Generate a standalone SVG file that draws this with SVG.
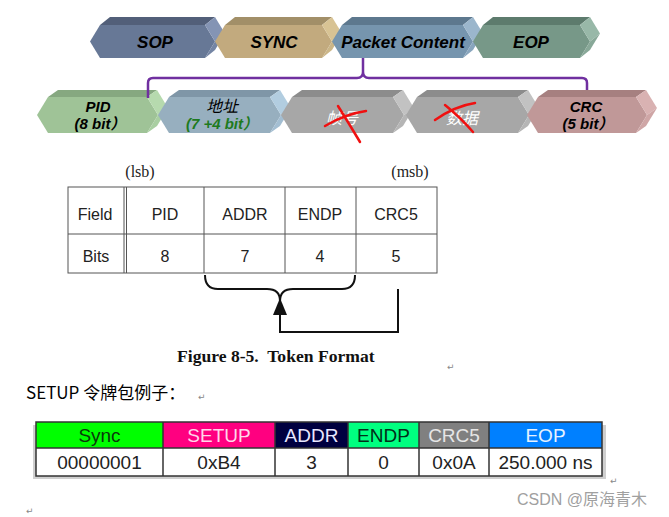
<svg xmlns="http://www.w3.org/2000/svg" width="669" height="517" viewBox="0 0 669 517">
<style>
.t1{font-family:"Liberation Sans",Arial,sans-serif;font-weight:bold;font-style:italic;font-size:17px;fill:#000;text-anchor:middle}
.t2{font-family:"Liberation Sans","Noto Sans CJK SC",sans-serif;font-weight:bold;font-style:italic;font-size:15px;fill:#000;text-anchor:middle}
.cn{font-family:"Noto Sans CJK SC",sans-serif;font-style:italic;font-size:16px;text-anchor:middle}
.tb{font-family:"Liberation Sans",Arial,sans-serif;font-size:16px;fill:#222;text-anchor:middle}
.tm{font-family:"Liberation Serif","Times New Roman",serif;font-size:16px;fill:#222;text-anchor:middle}
.bt{font-family:"Liberation Sans",Arial,sans-serif;font-size:19px;text-anchor:middle}
.ret{font-family:"DejaVu Sans",sans-serif;font-size:9px;fill:#888}
.cross{fill:none;stroke:#f01010;stroke-width:2.5;stroke-linecap:round}
.ln{stroke:#555;stroke-width:1;fill:none}
.bl{stroke:#333;stroke-width:1.5;fill:none}
</style>

<g id="sop">
<polygon points="90,41.5 100,25 205,25 215,41.5 205,58 100,58" fill="#677896"/>
<polygon points="100,25 110,17 215,17 205,25" fill="#525f79"/>
<polygon points="205,25 215,17 225,33.5 215,41.5" fill="#8494b4"/>
<polygon points="215,41.5 225,33.5 215,50 205,58" fill="#7485a4"/>
<text class="t1" x="155" y="48">SOP</text>
</g>
<g id="sync">
<polygon points="215,41.5 225,25 322,25 332,41.5 322,58 225,58" fill="#c2aa7e"/>
<polygon points="225,25 235,17 332,17 322,25" fill="#a28f68"/>
<polygon points="322,25 332,17 342,33.5 332,41.5" fill="#d8c394"/>
<polygon points="332,41.5 342,33.5 332,50 322,58" fill="#cbb688"/>
<text class="t1" x="274" y="48">SYNC</text>
</g>
<g id="packet">
<polygon points="332,41.5 342,25 463,25 473,41.5 463,58 342,58" fill="#7695ae"/>
<polygon points="342,25 352,17 473,17 463,25" fill="#5d788e"/>
<polygon points="463,25 473,17 483,33.5 473,41.5" fill="#9bb6cc"/>
<polygon points="473,41.5 483,33.5 473,50 463,58" fill="#88a5bd"/>
<text class="t1" x="403" y="48">Packet Content</text>
</g>
<g id="eop">
<polygon points="473,41.5 483,25 580,25 590,41.5 580,58 483,58" fill="#779888"/>
<polygon points="483,25 493,17 590,17 580,25" fill="#5d7b6d"/>
<polygon points="580,25 590,17 600,33.5 590,41.5" fill="#98b8a8"/>
<polygon points="590,41.5 600,33.5 590,50 580,58" fill="#88a898"/>
<text class="t1" x="531" y="48">EOP</text>
</g>

<g id="pid">
<polygon points="37,115 48,97 147,97 158,115 147,133 48,133" fill="#9fc397"/>
<polygon points="48,97 58,90 157,90 147,97" fill="#86a880"/>
<polygon points="147,97 157,90 168,108 158,115" fill="#b6daae"/>
<polygon points="158,115 168,108 157,126 147,133" fill="#a9cfa2"/>
<text class="t2" x="98" y="112">PID</text>
<text class="t2" x="100" y="129">(8 bit）</text>
</g>
<g id="addr">
<polygon points="158,115 169,97 270,97 281,115 270,133 169,133" fill="#97afbf"/>
<polygon points="169,97 179,90 280,90 270,97" fill="#7f96a7"/>
<polygon points="270,97 280,90 291,108 281,115" fill="#b2cde0"/>
<polygon points="281,115 291,108 280,126 270,133" fill="#a3bed2"/>
<text class="cn" x="222" y="112" fill="#000">地址</text>
<text class="t2" x="222" y="129" style="fill:#1e7a1e">(7 +4 bit）</text>
</g>
<g id="frame">
<polygon points="281,115 292,97 393,97 404,115 393,133 292,133" fill="#a7a7a7"/>
<polygon points="292,97 302,90 403,90 393,97" fill="#8c8c8c"/>
<polygon points="393,97 403,90 414,108 404,115" fill="#c2c2c2"/>
<polygon points="404,115 414,108 403,126 393,133" fill="#b5b5b5"/>
<text class="cn" x="342" y="124" fill="#fff">帧号</text>
<path class="cross" d="M338,106 Q348,122 360,142"/>
<path class="cross" d="M325,126 Q345,114 366,111"/>
</g>
<g id="data">
<polygon points="406,115 417,97 518,97 529,115 518,133 417,133" fill="#a7a7a7"/>
<polygon points="417,97 427,90 528,90 518,97" fill="#8c8c8c"/>
<polygon points="518,97 528,90 539,108 529,115" fill="#c2c2c2"/>
<polygon points="529,115 539,108 528,126 518,133" fill="#b5b5b5"/>
<text class="cn" x="462" y="124" fill="#fff">数据</text>
<path class="cross" d="M445,105 Q460,117 473,132"/>
<path class="cross" d="M435,120 Q455,106 475,103"/>
</g>
<g id="crc">
<polygon points="527,115 538,97 636,97 647,115 636,133 538,133" fill="#c09898"/>
<polygon points="538,97 548,90 646,90 636,97" fill="#a68080"/>
<polygon points="636,97 646,90 657,108 647,115" fill="#d9b2b2"/>
<polygon points="647,115 657,108 646,126 636,133" fill="#cfa6a6"/>
<text class="t2" x="586" y="112">CRC</text>
<text class="t2" x="588" y="129">(5 bit）</text>
</g>

<g id="connectors">
<path d="M148,98 L148,83 Q148,78 153,78 L357,78 Q363,78 363,72 L363,58 M363,72 Q363,78 369,78 L582,78 Q587,78 587,83 L587,90" fill="none" stroke="#7030a0" stroke-width="2.5"/>
<path d="M205,275 Q205,289 218,289 L267,289 Q280,289 280,301 Q280,289 293,289 L342,289 Q355,289 355,275" fill="none" stroke="#111" stroke-width="2"/>
<polygon points="280,298 273,315 287,315" fill="#111"/>
<path d="M280,314 L280,332 L398,332 L398,289" fill="none" stroke="#111" stroke-width="2"/>
</g>

<g id="token-table">
<text class="tm" x="140" y="177">(lsb)</text>
<text class="tm" x="410" y="177">(msb)</text>
<rect x="68" y="187" width="369" height="86" class="ln"/>
<line x1="68" y1="234" x2="437" y2="234" class="ln"/>
<line x1="124" y1="187" x2="124" y2="273" class="ln"/>
<line x1="126.5" y1="187" x2="126.5" y2="273" class="ln"/>
<line x1="204" y1="187" x2="204" y2="273" class="ln"/>
<line x1="285" y1="187" x2="285" y2="273" class="ln"/>
<line x1="356" y1="187" x2="356" y2="273" class="ln"/>
<text class="tb" x="95" y="220">Field</text>
<text class="tb" x="165" y="220">PID</text>
<text class="tb" x="245" y="220">ADDR</text>
<text class="tb" x="320" y="220">ENDP</text>
<text class="tb" x="396" y="220">CRC5</text>
<text class="tb" x="96" y="262">Bits</text>
<text class="tb" x="165" y="262">8</text>
<text class="tb" x="245" y="262">7</text>
<text class="tb" x="320" y="262">4</text>
<text class="tb" x="396" y="262">5</text>
<text x="177" y="362" style="font-family:'Liberation Serif','Times New Roman',serif;font-weight:bold;font-size:17.6px;fill:#111;white-space:pre">Figure 8-5.  Token Format</text>
<text class="ret" x="447" y="370">↵</text>
</g>

<g id="setup-title">
<text x="26" y="399" style="font-family:'Noto Sans CJK SC',sans-serif;font-size:17px;fill:#000">SETUP 令牌包例子：</text>
<text class="ret" x="198" y="400">↵</text>
</g>

<g id="setup-table">
<rect x="33" y="425" width="573" height="54" fill="#cfcfcf"/>
<rect x="36" y="422" width="127" height="26" fill="#00ff00"/>
<rect x="163" y="422" width="112" height="26" fill="#ff0080"/>
<rect x="275" y="422" width="73" height="26" fill="#000040"/>
<rect x="348" y="422" width="71" height="26" fill="#00ff80"/>
<rect x="419" y="422" width="70" height="26" fill="#808080"/>
<rect x="489" y="422" width="113" height="26" fill="#0080ff"/>
<rect x="36" y="448" width="566" height="28" fill="#fff"/>
<rect x="36" y="422" width="566" height="54" class="bl"/>
<line x1="36" y1="448" x2="602" y2="448" class="bl"/>
<line x1="163" y1="422" x2="163" y2="476" class="bl"/>
<line x1="275" y1="422" x2="275" y2="476" class="bl"/>
<line x1="348" y1="422" x2="348" y2="476" class="bl"/>
<line x1="419" y1="422" x2="419" y2="476" class="bl"/>
<line x1="489" y1="422" x2="489" y2="476" class="bl"/>
<text class="bt" x="99.5" y="442" fill="#0a3a0a">Sync</text>
<text class="bt" x="219" y="442" fill="#ffd6ea">SETUP</text>
<text class="bt" x="311.5" y="442" fill="#e8e8ff">ADDR</text>
<text class="bt" x="383.5" y="442" fill="#003018">ENDP</text>
<text class="bt" x="454" y="442" fill="#e6e6e6">CRC5</text>
<text class="bt" x="545.5" y="442" fill="#e6f2ff">EOP</text>
<text class="bt" x="99.5" y="469" fill="#222">00000001</text>
<text class="bt" x="219" y="469" fill="#222">0xB4</text>
<text class="bt" x="311.5" y="469" fill="#222">3</text>
<text class="bt" x="383.5" y="469" fill="#222">0</text>
<text class="bt" x="454" y="469" fill="#222">0x0A</text>
<text class="bt" x="545.5" y="469" fill="#222">250.000 ns</text>
<text class="ret" x="610" y="484">↵</text>
</g>

<text class="ret" x="26" y="514">↵</text>
<text x="517" y="505" style="font-family:'Liberation Sans','Noto Sans CJK SC',sans-serif;font-size:16px;fill:#a0a0a0">CSDN @原海青木</text>
</svg>
